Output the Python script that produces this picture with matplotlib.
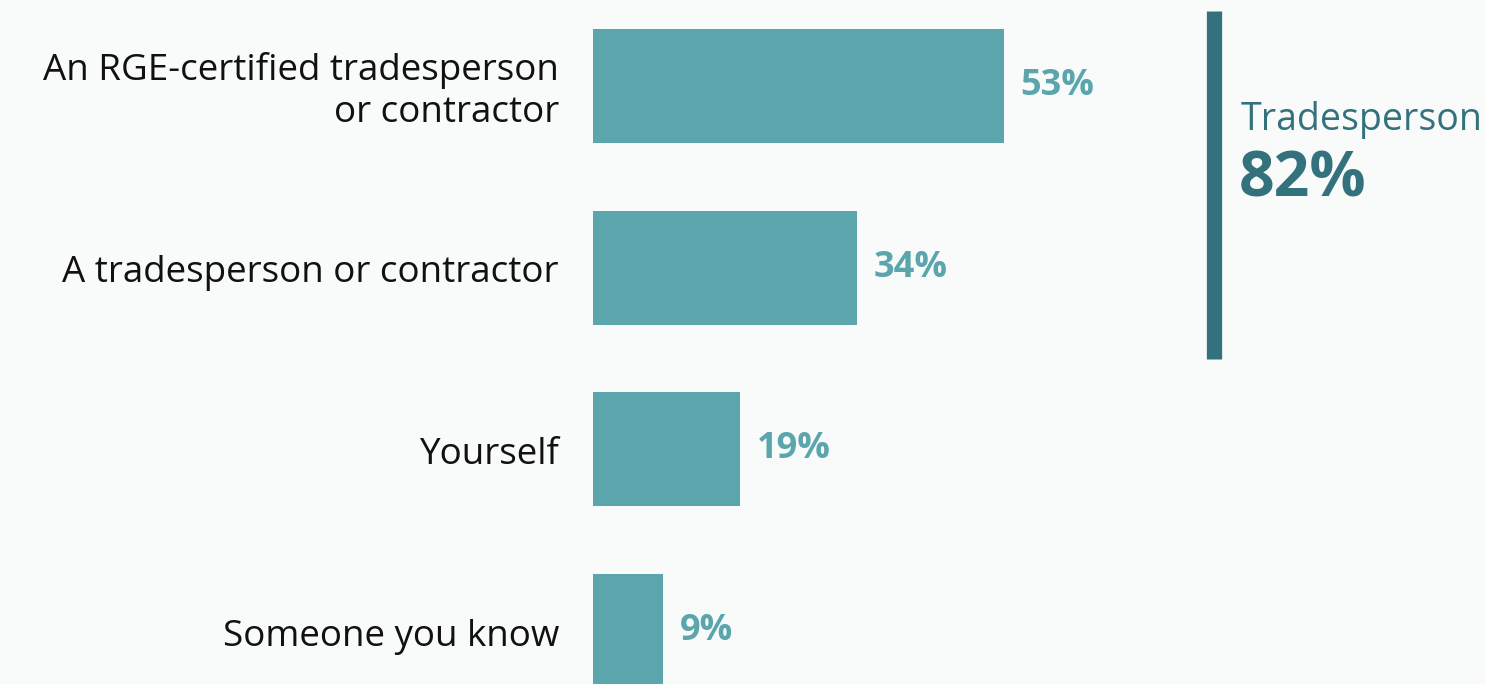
import matplotlib
matplotlib.use("Agg")
import matplotlib.pyplot as plt

# data
categories = ["An RGE-certified tradesperson\nor contractor",
              "A tradesperson or contractor",
              "Yourself",
              "Someone you know"]
values = [53, 34, 19, 9]
summary_label = "Tradesperson"
summary_value = 82

bar_color = "#5aa6ac"
dark_color = "#33727c"
bg = "#f9fbfb"

plt.rcParams['font.family'] = ['Open Sans', 'DejaVu Sans']

fig = plt.figure(figsize=(14.86, 6.84), dpi=100, facecolor=bg)
ax = fig.add_axes([0, 0, 1, 1])
ax.set_facecolor(bg)

px = 7.75  # pixels per percent
ax.set_xlim(-593 / px, (1486 - 593) / px)
ax.set_ylim(3.291, -0.473)

ypos = list(range(len(values)))
ax.barh(ypos, values, height=0.627, color=bar_color)

for y, v, lab in zip(ypos, values, categories):
    ax.text(-34 / px, y + 0.03, lab, ha="right", va="center", fontsize=26.5,
            color="#111111", linespacing=1.22)
    ax.text(v + 17 / px, y, f"{v}%", ha="left", va="center", fontsize=26,
            fontweight="bold", color=bar_color)

# bracket for the combined share
ax.plot([(1214 - 593) / px] * 2, [-0.41, 1.5], color=dark_color, lw=11,
        solid_capstyle="butt")
ax.text((1241 - 593) / px, 0.19, summary_label, ha="left", va="center",
        fontsize=27, color=dark_color)
ax.text((1239 - 593) / px, 0.52, f"{summary_value}%", ha="left", va="center",
        fontsize=45, fontweight="bold", color=dark_color)

ax.axis("off")
fig.savefig("out.png", dpi=100, facecolor=bg)
